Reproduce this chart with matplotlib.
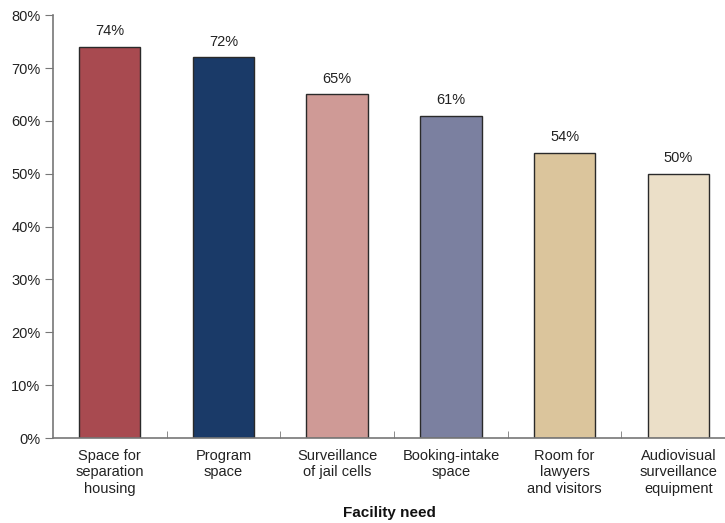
import numpy as np
import matplotlib.pyplot as plt

plt.rcParams['font.family'] = ['Liberation Sans', 'DejaVu Sans']

needs = ['Space for\nseparation\nhousing', 'Program\nspace', 'Surveillance\nof jail cells',
         'Booking-intake\nspace', 'Room for\nlawyers\nand visitors', 'Audiovisual\nsurveillance\nequipment']
percent = [74, 72, 65, 61, 54, 50]
colors = ['#a84a50', '#1a3a68', '#cf9a96', '#7b80a0', '#dbc59c', '#ebdfc8']

fig = plt.figure(figsize=(7.25, 5.23), dpi=100)
ax = fig.add_axes([0.073, 0.1625, 0.93, 0.8085])
x = np.arange(len(needs))
ax.bar(x, percent, width=0.54, color=colors, edgecolor='#2a2a2a', linewidth=1.0, zorder=2)
for xi, p in zip(x, percent):
    ax.text(xi, p + 1.6, f'{p}%', ha='center', va='bottom', fontsize=10.5, color='#222')

ax.set_xlim(-0.5, 5.43)
ax.set_ylim(0, 80)
ax.set_yticks(range(0, 81, 10))
ax.set_yticklabels([f'{v}%' for v in range(0, 81, 10)])
ax.set_xticks(x)
ax.set_xticklabels(needs, fontsize=10.5, color='#222', linespacing=1.2)
ax.tick_params(axis='x', length=0, pad=8)
ax.set_xticks(x[:-1] + 0.5, minor=True)
ax.tick_params(axis='x', which='minor', direction='in', length=5, color='#777')
ax.tick_params(axis='y', length=6, color='#777', labelsize=10.5, labelcolor='#222', pad=3)
for s in ['top', 'right']:
    ax.spines[s].set_visible(False)
for s in ['left', 'bottom']:
    ax.spines[s].set_color('#777')
    ax.spines[s].set_linewidth(1.2)
fig.text(0.537, 0.019, 'Facility need', ha='center', va='center',
         fontsize=11, fontweight='bold', color='#111')

fig.savefig('out.png', dpi=100)
